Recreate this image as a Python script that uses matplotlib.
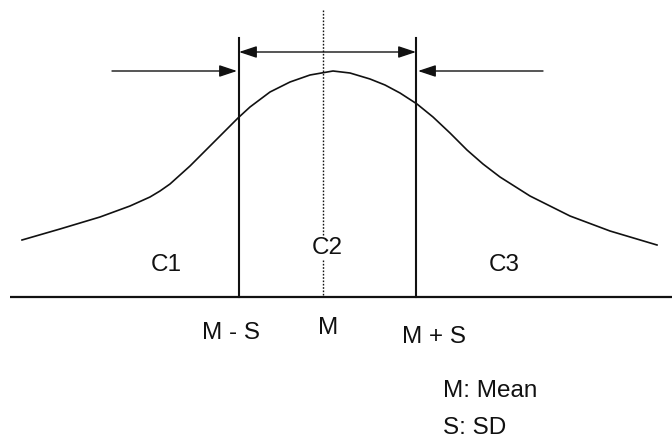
import matplotlib
matplotlib.use("Agg")
import matplotlib.pyplot as plt

# diagram drawn in image-like units (x to the right, y downwards)
curve_x = [22, 60, 100, 130, 150, 160, 170, 180, 190, 210, 225, 238, 250, 270, 290, 310, 333,
           350, 370, 385, 400, 417, 433, 450, 467, 483, 500, 530, 570, 610, 657]
curve_y = [240, 229, 217, 206, 197, 191, 184, 175, 166, 146, 131, 118, 107, 92, 82, 75, 71,
           73, 79, 85, 93, 104, 117, 133, 150, 164, 177, 196, 216, 231, 245]

base_y = 297
base_x = [10, 672]
mean_x = 323
sd_x = [239, 416]          # M - S, M + S
sd_top = 38
dotted_top = 10

span_y = 52                # double arrow between the two lines
side_y = 71
side_start = [112, 543]    # outer ends of the two side arrows

region_labels = ['C1', 'C2', 'C3']
region_x = [166, 327, 504]
region_y = [265, 248, 265]

tick_labels = ['M - S', 'M', 'M + S']
tick_x = [231, 328, 434]
tick_y = [333, 328, 337]

legend_lines = ['M: Mean', 'S: SD']
legend_x = 443
legend_y = [391, 428]

INK = '#111111'
FONT = 'Liberation Sans'
FS = 17.5

fig = plt.figure(figsize=(6.72, 4.48), dpi=100)
ax = fig.add_axes([0, 0, 1, 1])
ax.set_xlim(0, 672)
ax.set_ylim(448, 0)
ax.axis('off')

ax.plot(base_x, [base_y, base_y], color=INK, lw=1.6, solid_capstyle='butt')
for x in sd_x:
    ax.plot([x, x], [sd_top, base_y], color=INK, lw=1.5)
ax.plot([mean_x, mean_x], [dotted_top, base_y], color=INK, lw=1.0,
        linestyle=(0, (1.2, 1.2)))
ax.plot(curve_x, curve_y, color=INK, lw=1.2, solid_joinstyle='round')

head = dict(color=INK, lw=1.0, shrinkA=0, shrinkB=0, mutation_scale=12)
ax.annotate('', xy=(sd_x[1], span_y), xytext=(sd_x[0], span_y),
            arrowprops=dict(arrowstyle='<|-|>,head_length=0.9,head_width=0.3', **head))
ax.annotate('', xy=(sd_x[0] - 2, side_y), xytext=(side_start[0], side_y),
            arrowprops=dict(arrowstyle='-|>,head_length=0.9,head_width=0.3', **head))
ax.annotate('', xy=(sd_x[1] + 2, side_y), xytext=(side_start[1], side_y),
            arrowprops=dict(arrowstyle='-|>,head_length=0.9,head_width=0.3', **head))

for lab, x, y in zip(region_labels, region_x, region_y):
    ax.text(x, y, lab, ha='center', va='center', fontsize=FS, family=FONT,
            color=INK, bbox=dict(facecolor='white', edgecolor='none', pad=1))

for lab, x, y in zip(tick_labels, tick_x, tick_y):
    ax.text(x, y, lab, ha='center', va='center', fontsize=FS, family=FONT, color=INK)

for lab, y in zip(legend_lines, legend_y):
    ax.text(legend_x, y, lab, ha='left', va='center', fontsize=FS, family=FONT, color=INK)

fig.savefig('out.png', dpi=100, facecolor='white')
